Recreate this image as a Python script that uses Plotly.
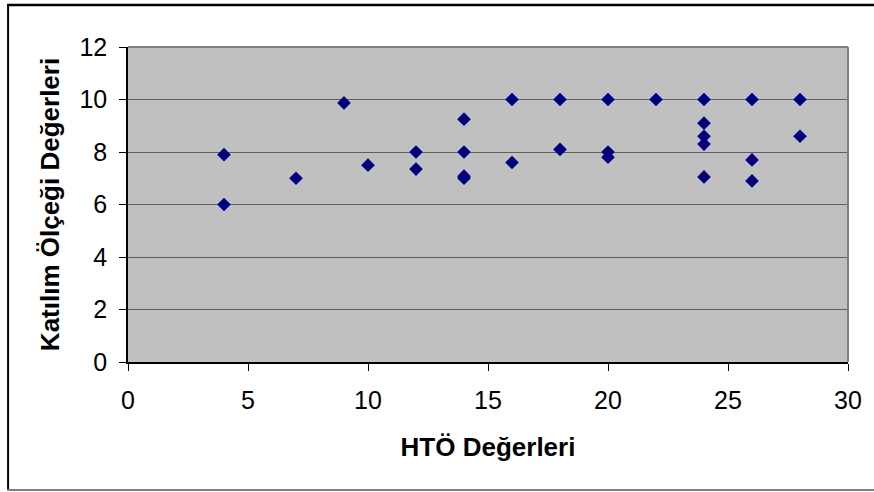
import plotly.graph_objects as go

hto_values = [4, 4, 7, 9, 10, 12, 12, 14, 14, 14, 14, 16, 16, 18, 18, 20, 20, 20,
              22, 24, 24, 24, 24, 24, 26, 26, 26, 28, 28]
katilim_values = [7.9, 6.0, 7.0, 9.87, 7.5, 8.0, 7.35, 9.25, 8.0, 7.0, 7.08, 10.0, 7.6,
                  10.0, 8.1, 10.0, 8.0, 7.8, 10.0, 10.0, 9.1, 8.6, 8.3, 7.05, 10.0, 7.7,
                  6.9, 10.0, 8.6]
x_ticks = [0, 5, 10, 15, 20, 25, 30]
y_ticks = [0, 2, 4, 6, 8, 10, 12]
x_title = "HTÖ Değerleri"
y_title = "Katılım Ölçeği Değerleri"

FONT = "Liberation Sans, Arial, sans-serif"

fig = go.Figure()
fig.add_trace(go.Scatter(
    x=hto_values, y=katilim_values, mode="markers",
    marker=dict(symbol="diamond", size=10.5, color="#000080",
                line=dict(width=0)),
    showlegend=False, cliponaxis=False,
))

W, H = 874, 492
L, R, T, B = 127.5, 23, 46.5, 129.7
pw, ph = W - L - R, H - T - B

def px_to_paper_x(px):
    return (px - L) / pw

def px_to_paper_y(py):
    return (H - B - py) / ph

fig.update_layout(
    width=W, height=H,
    margin=dict(l=L, r=R, t=T, b=B, pad=0),
    paper_bgcolor="white", plot_bgcolor="#C0C0C0",
    font=dict(family=FONT, size=25, color="black"),
    xaxis=dict(
        range=[0, 30], tickvals=x_ticks, ticktext=[str(v) for v in x_ticks],
        showgrid=False, zeroline=False,
        showline=True, linecolor="black", linewidth=1.5,
        ticks="outside", ticklen=7, tickcolor="black", tickwidth=1,
        tickfont=dict(size=25), ticklabelstandoff=8,
        title=dict(text=x_title, font=dict(size=26, family=FONT, weight="bold"), standoff=25),
    ),
    yaxis=dict(
        range=[0, 12], tickvals=y_ticks, ticktext=[str(v) for v in y_ticks],
        showgrid=True, gridcolor="#5f5f5f", gridwidth=1.3, zeroline=False,
        showline=True, linecolor="black", linewidth=1.5,
        ticks="outside", ticklen=7, tickcolor="black", tickwidth=1,
        tickfont=dict(size=25), ticklabelstandoff=7,
        title=dict(text=y_title, font=dict(size=26, family=FONT, weight="bold"), standoff=12),
    ),
    shapes=[
        dict(type="line", xref="paper", yref="paper", x0=0, x1=1, y0=1, y1=1,
             line=dict(color="#808080", width=2), layer="above"),
        dict(type="line", xref="paper", yref="paper", x0=1, x1=1, y0=0, y1=1,
             line=dict(color="#808080", width=2), layer="above"),
        dict(type="line", xref="paper", yref="paper",
             x0=px_to_paper_x(6), x1=px_to_paper_x(880),
             y0=px_to_paper_y(4.5), y1=px_to_paper_y(4.5),
             line=dict(color="black", width=2.5)),
        dict(type="line", xref="paper", yref="paper",
             x0=px_to_paper_x(7), x1=px_to_paper_x(7),
             y0=px_to_paper_y(4), y1=px_to_paper_y(491),
             line=dict(color="black", width=2)),
        dict(type="line", xref="paper", yref="paper",
             x0=px_to_paper_x(6), x1=px_to_paper_x(880),
             y0=px_to_paper_y(490.5), y1=px_to_paper_y(490.5),
             line=dict(color="#808080", width=2)),
    ],
)

fig.write_html("out.html")
